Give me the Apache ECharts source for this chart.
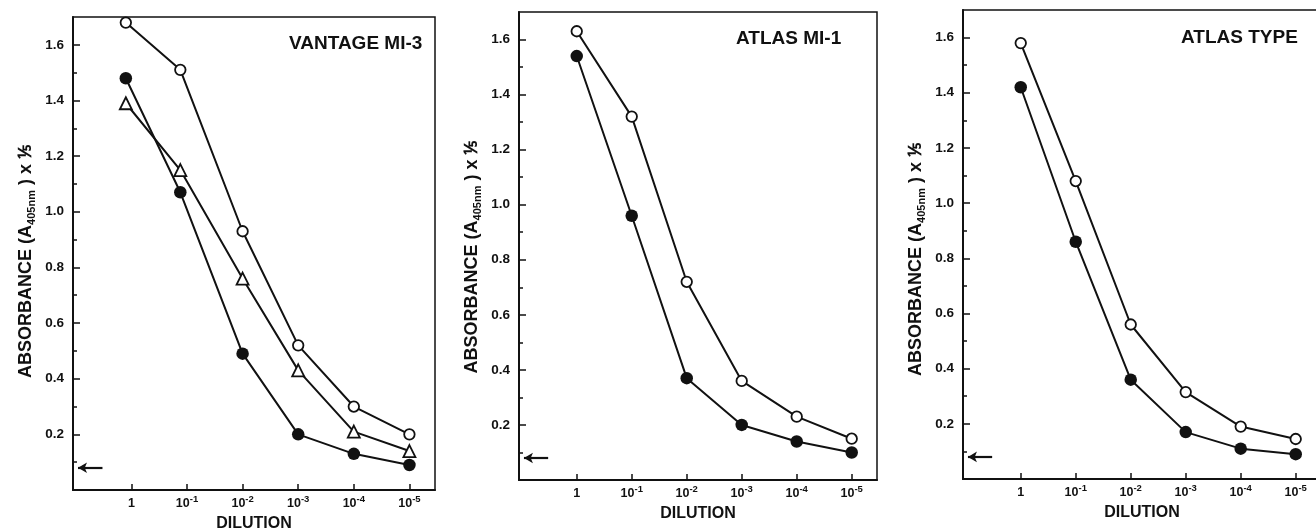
<!DOCTYPE html>
<html>
<head>
<meta charset="utf-8">
<title>Absorbance vs dilution</title>
<script src="https://cdn.jsdelivr.net/npm/echarts@6/dist/echarts.min.js"></script>
<style>
    html, body {margin: 0; padding: 0; background: #fff;}
    #main {width: 1316px; height: 532px;}
</style>
</head>
<body>
<div id="main"></div>
<script>
//稀释度刻度标签
var dilutionLabels = ['1', '10^-1', '10^-2', '10^-3', '10^-4', '10^-5'];
var dilutionIndex = [0, 1, 2, 3, 4, 5];
//纵轴刻度
var yTickValues = [0.2, 0.4, 0.6, 0.8, 1.0, 1.2, 1.4, 1.6];
var yMinorValues = [0.1, 0.3, 0.5, 0.7, 0.9, 1.1, 1.3, 1.5];
//空白对照(箭头)
var blankLevel = 0.08;
var blankFrom = -0.96;
var blankTo = -0.52;

//VANTAGE MI-3
var vantageX = [-0.1, 0.88, 2, 3, 4, 5];
var vantageOpen = [1.68, 1.51, 0.93, 0.52, 0.30, 0.20];
var vantageFilled = [1.48, 1.07, 0.49, 0.20, 0.13, 0.09];
var vantageTriangle = [1.39, 1.15, 0.76, 0.43, 0.21, 0.14];

//ATLAS MI-1
var atlasMiX = [0, 1, 2, 3, 4, 5];
var atlasMiOpen = [1.63, 1.32, 0.72, 0.36, 0.23, 0.15];
var atlasMiFilled = [1.54, 0.96, 0.37, 0.20, 0.14, 0.10];

//ATLAS TYPE
var atlasTypeX = [0, 1, 2, 3, 4, 5];
var atlasTypeOpen = [1.58, 1.08, 0.56, 0.315, 0.19, 0.145];
var atlasTypeFilled = [1.42, 0.86, 0.36, 0.17, 0.11, 0.09];

var FONT = '"Liberation Sans", Arial, sans-serif';
var INK = '#111';

//三个小图的位置
var panels = [
    {title: 'VANTAGE MI-3', titleLeft: 289, titleTop: 34, namePad: 16, grid: {left: 73, top: 17, width: 362, height: 473},
        x: vantageX, open: vantageOpen, filled: vantageFilled, triangle: vantageTriangle},
    {title: 'ATLAS MI-1', titleLeft: 736, titleTop: 29, namePad: 22, grid: {left: 519, top: 12, width: 358, height: 468},
        x: atlasMiX, open: atlasMiOpen, filled: atlasMiFilled},
    {title: 'ATLAS TYPE', titleLeft: 1181, titleTop: 28, namePad: 30, grid: {left: 963, top: 10, width: 358, height: 469},
        x: atlasTypeX, open: atlasTypeOpen, filled: atlasTypeFilled}
];

//x轴标签(上标)
function dilutionFormatter(v) {
    var s = dilutionLabels[Math.round(v)];
    if (s == null) return '';
    var parts = s.split('^');
    if (parts.length > 1) {
        return '{b|' + parts[0] + '}{sup|' + parts[1] + '}';
    }
    return '{b|' + s + '}';
}

function pairs(xs, ys) {
    var arr = new Array();
    for (var i = 0; i < ys.length; i++)
        arr[i] = [xs[i], ys[i]];
    return arr;
}

function makeSeries(idx, xs, ys, kind) {
    var open = kind != 'filled';
    var size = 10.5;
    if (kind == 'triangle') size = 12;
    if (kind == 'filled') size = 12.5;
    var s = {
        type: 'line',
        xAxisIndex: idx,
        yAxisIndex: idx * 2,
        data: pairs(xs, ys),
        symbol: kind == 'triangle' ? 'triangle' : 'circle',
        symbolSize: size,
        lineStyle: {color: INK, width: 2},
        itemStyle: {color: open ? '#fff' : INK, borderColor: INK, borderWidth: open ? 1.8 : 0},
        emphasis: {disabled: true},
        silent: true,
        z: kind == 'filled' ? 3 : 2
    };
    if (kind == 'filled') {
        s.markLine = {
            silent: true,
            symbol: ['arrow', 'none'],
            symbolSize: [8, 9],
            label: {show: false},
            lineStyle: {color: INK, width: 2.2, type: 'solid'},
            data: [[{coord: [blankFrom, blankLevel]}, {coord: [blankTo, blankLevel]}]]
        };
    }
    return s;
}

var option = {
    animation: false,
    backgroundColor: '#fff',
    title: [],
    grid: [],
    xAxis: [],
    yAxis: [],
    series: []
};

for (var i = 0; i < panels.length; i++) {
    var p = panels[i];
    option.title.push({
        text: p.title, left: p.titleLeft, top: p.titleTop, padding: 0,
        textStyle: {fontFamily: FONT, fontSize: 19, fontWeight: 'bold', color: INK}
    });
    option.grid.push({
        left: p.grid.left, top: p.grid.top, width: p.grid.width, height: p.grid.height,
        show: true, borderColor: INK, borderWidth: 1.5, backgroundColor: 'transparent',
        outerBoundsMode: 'none'
    });
    option.xAxis.push({
        type: 'value', gridIndex: i, min: -1.05, max: 5.46,
        axisLine: {show: true, onZero: false, lineStyle: {color: INK, width: 2}},
        axisTick: {show: true, inside: true, length: 6, customValues: dilutionIndex, lineStyle: {color: INK, width: 1.5}},
        axisLabel: {
            customValues: dilutionIndex, formatter: dilutionFormatter, margin: 4,
            rich: {
                b: {fontFamily: FONT, fontSize: 12.5, fontWeight: 'bold', color: INK, lineHeight: 20},
                sup: {fontFamily: FONT, fontSize: 9.5, fontWeight: 'bold', color: INK, lineHeight: 10, verticalAlign: 'top'}
            }
        },
        splitLine: {show: false},
        name: 'DILUTION', nameLocation: 'middle', nameGap: 25,
        nameTextStyle: {fontFamily: FONT, fontSize: 16, fontWeight: 'bold', color: INK}
    });
    //主纵轴
    option.yAxis.push({
        type: 'value', gridIndex: i, min: 0, max: 1.7, interval: 0.1, position: 'left',
        axisLine: {show: true, onZero: false, lineStyle: {color: INK, width: 2}},
        axisTick: {show: true, inside: true, length: 7, customValues: yTickValues, lineStyle: {color: INK, width: 1.5}},
        axisLabel: {
            customValues: yTickValues, margin: 9,
            formatter: function (v) { return v.toFixed(1); },
            fontFamily: FONT, fontSize: 13.5, fontWeight: 'bold', color: INK
        },
        splitLine: {show: false},
        name: '{a|ABSORBANCE (A}{sub|405nm}{a| ) x }{a|\u2155}',
        nameLocation: 'middle', nameRotate: 90, nameGap: 36,
        nameTextStyle: {
            padding: [0, p.namePad, 0, 0],
            rich: {
                a: {fontFamily: FONT, fontSize: 18, fontWeight: 'bold', color: INK, lineHeight: 20, verticalAlign: 'top'},
                sub: {fontFamily: FONT, fontSize: 11, fontWeight: 'bold', color: INK, lineHeight: 13, verticalAlign: 'top', padding: [9, 0, 0, 0]}
            }
        }
    });
    //次刻度
    option.yAxis.push({
        type: 'value', gridIndex: i, min: 0, max: 1.7, interval: 0.1, position: 'left',
        axisLine: {show: false, onZero: false},
        axisTick: {show: true, inside: true, length: 4, customValues: yMinorValues, lineStyle: {color: INK, width: 1.5}},
        axisLabel: {show: false},
        splitLine: {show: false}
    });
    option.series.push(makeSeries(i, p.x, p.open, 'open'));
    if (p.triangle) option.series.push(makeSeries(i, p.x, p.triangle, 'triangle'));
    option.series.push(makeSeries(i, p.x, p.filled, 'filled'));
}

var mychart = echarts.init(document.getElementById('main'));
mychart.setOption(option);
</script>
</body>
</html>
